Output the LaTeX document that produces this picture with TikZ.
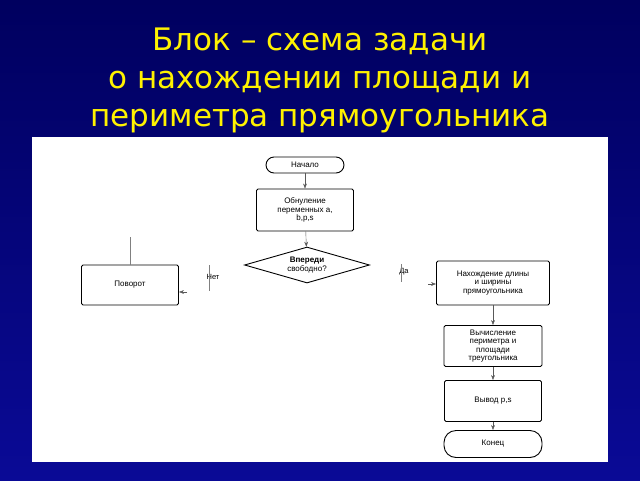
\documentclass[tikz,border=0pt]{standalone}
\usepackage{fontspec}
\setmainfont{DejaVu Sans}
\newfontfamily\boxfont{Liberation Sans}
\usetikzlibrary{positioning,shapes.geometric,arrows.meta}

\tikzset{
	blockbox/.style={draw,line width=0.9pt,rounded corners=1.5pt,align=center,font=\boxfont\fontsize{8}{8.5}\selectfont,inner sep=1pt},
	termbox/.style={draw,line width=0.9pt,rounded corners=8pt,align=center,font=\boxfont\fontsize{8}{8.5}\selectfont},
	flow/.style={-{Stealth[length=5pt]},thin,gray!70!black}
}

\begin{document}
\begin{tikzpicture}[x=1pt,y=-1pt]
	\useasboundingbox (0,0) rectangle (640,480);
	\shade[top color={rgb,255:red,0;green,0;blue,95},bottom color={rgb,255:red,10;green,10;blue,150}] (0,0) rectangle (640,480);
	\fill[white] (32,137) rectangle (608,462);
	
	% title
	\node[text=yellow,font=\fontsize{31}{38}\selectfont,align=center] (title) at (320,80) {Блок – схема задачи\\о нахождении площади и\\периметра прямоугольника};
	
	% blocks
	\node[termbox,minimum width=78,minimum height=16] (start) at (305,165) {Начало};
	\node[blockbox,minimum width=97,minimum height=42] (reset) at (305,210) {Обнуление\\переменных a,\\b,p,s};
	\node[diamond,draw,line width=0.9pt,aspect=3.5,minimum width=125,minimum height=36,inner sep=0pt,align=center,font=\boxfont\fontsize{8}{8.5}\selectfont] (cond) at (307,265) {\textbf{Впереди}\\свободно?};
	\node[blockbox,minimum width=97,minimum height=40] (turn) at (130,285) {Поворот};
	\node[blockbox,minimum width=113,minimum height=44] (size) at (493,283) {Нахождение длины\\и ширины\\прямоугольника};
	\node[blockbox,minimum width=98,minimum height=41] (calc) at (493,346) {Вычисление\\периметра и\\площади\\треугольника};
	\node[blockbox,minimum width=97,minimum height=41] (out) at (493,401) {Вывод p,s};
	\node[termbox,minimum width=98,minimum height=27,rounded corners=12pt] (stop) at (493,444) {Конец};
	
	% labels
	\node[font=\boxfont\fontsize{7.5}{8}\selectfont] (no) at (213,277) {Нет};
	\node[font=\boxfont\fontsize{7.5}{8}\selectfont] (yes) at (404,272) {Да};
	\draw[gray,thin] (209,265) -- (209,291);
	\draw[gray,thin] (401,264) -- (401,282);
	
	% connectors
	\draw[flow] (start) -- (reset);
	\draw[flow] (reset) -- (cond);
	\coordinate (turnin) at (187,292);
	\coordinate (sizein) at (428,284);
	\draw[flow] (turnin) -- (turn.east |- turnin);
	\draw[flow] (sizein) -- (size.west |- sizein);
	\coordinate (turntop) at (130,237);
	\draw[gray,thin] (turntop) -- (turn.north);
	\draw[flow] (size) -- (calc);
	\draw[flow] (calc) -- (out);
	\draw[flow] (out) -- (stop);
	
\end{tikzpicture}
\end{document}
